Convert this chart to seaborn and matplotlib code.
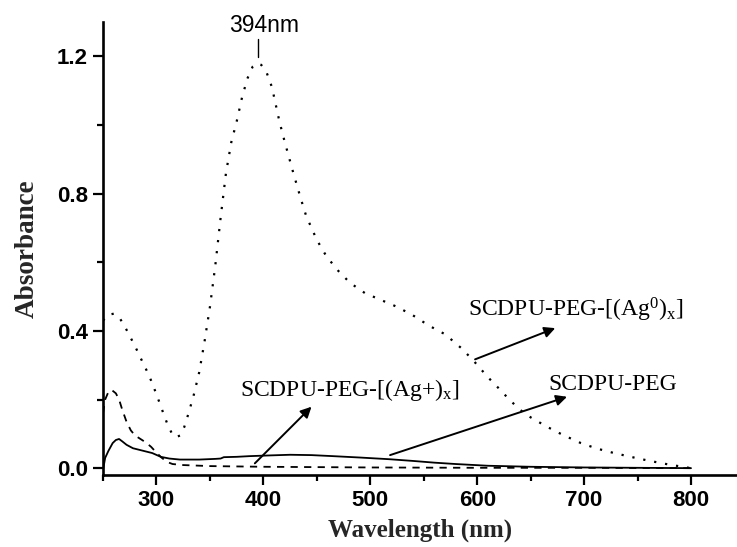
import matplotlib
matplotlib.use("Agg")
import matplotlib.pyplot as plt
import seaborn as sns
import pandas as pd

# ---- data ----
ag0_nm = [250, 255, 260, 265, 270, 275, 280, 285, 290, 295, 300, 305, 310, 315, 318,
          322, 326, 330, 335, 340, 345, 350, 355, 360, 365, 370, 375, 380, 385, 390,
          394, 398, 403, 408, 415, 420, 428, 435, 440, 450, 459, 470, 481, 495, 510,
          525, 540, 555, 570, 585, 596, 610, 620, 630, 640, 650, 665, 680, 697, 712,
          728, 745, 760, 775, 790, 800]
ag0_abs = [0.43, 0.447, 0.45, 0.44, 0.415, 0.385, 0.355, 0.322, 0.29, 0.255, 0.215, 0.172,
           0.13, 0.097, 0.09, 0.095, 0.12, 0.16, 0.215, 0.28, 0.37, 0.47, 0.59, 0.73, 0.86,
           0.95, 1.01, 1.08, 1.135, 1.17, 1.18, 1.175, 1.153, 1.11, 1.01, 0.95, 0.86, 0.785,
           0.735, 0.665, 0.617, 0.575, 0.54, 0.51, 0.49, 0.47, 0.445, 0.415, 0.39, 0.35,
           0.315, 0.265, 0.233, 0.2, 0.17, 0.148, 0.121, 0.097, 0.073, 0.057, 0.044, 0.032,
           0.022, 0.013, 0.005, 0.0]

agp_nm = [250, 252, 255, 258, 262, 265, 268, 272, 276, 280, 285, 290, 295, 300, 305, 310,
          315, 325, 350, 400, 500, 600, 700, 800]
agp_abs = [0.16, 0.2, 0.222, 0.228, 0.218, 0.2, 0.17, 0.135, 0.11, 0.095, 0.085, 0.075,
           0.062, 0.045, 0.03, 0.018, 0.012, 0.009, 0.006, 0.004, 0.002, 0.001, 0.001, 0.0]

peg_nm = [250, 252, 255, 259, 262, 265, 268, 272, 278, 287, 296, 304, 312, 322, 340, 355,
          360, 363, 375, 387, 405, 425, 445, 465, 490, 518, 540, 560, 580, 610, 650, 700,
          750, 800]
peg_abs = [-0.005, 0.03, 0.05, 0.073, 0.082, 0.085, 0.078, 0.068, 0.058, 0.051, 0.044, 0.033,
           0.028, 0.025, 0.025, 0.027, 0.028, 0.032, 0.033, 0.035, 0.037, 0.039, 0.038,
           0.035, 0.031, 0.026, 0.021, 0.016, 0.012, 0.007, 0.004, 0.002, 0.001, 0.0]

x_ticks = [300, 400, 500, 600, 700, 800]
y_ticks = [0.0, 0.4, 0.8, 1.2]
peak_label = "394nm"
peak_nm = 394.5

sns.set_style("ticks")
plt.rcParams["mathtext.fontset"] = "custom"
plt.rcParams["mathtext.rm"] = "Liberation Serif"
plt.rcParams["mathtext.it"] = "Liberation Serif:italic"

fig = plt.figure(figsize=(7.37, 5.47), dpi=100)
ax = fig.add_axes([0.1398, 0.1316, 0.8602, 0.8282])

sns.lineplot(x=ag0_nm, y=ag0_abs, ax=ax, color="black", lw=1.6,
             linestyle=(0, (1, 4)), estimator=None, sort=False)
sns.lineplot(x=agp_nm, y=agp_abs, ax=ax, color="black", lw=1.3,
             linestyle=(0, (4, 3.5)), estimator=None, sort=False)
sns.lineplot(x=peg_nm, y=peg_abs, ax=ax, color="black", lw=1.3,
             linestyle="-", estimator=None, sort=False)

ax.set_xlim(250, 843)
ax.set_ylim(-0.02, 1.30)
ax.set_xticks(x_ticks)
ax.set_xticks([250, 350, 450, 550, 650, 750], minor=True)
ax.set_yticks(y_ticks)
ax.set_yticks([0.2, 0.6, 1.0], minor=True)
ax.set_yticklabels([f"{v:.1f}" for v in y_ticks])
ax.set_xticklabels([str(v) for v in x_ticks])

sns.despine(ax=ax)
for s in ["left", "bottom"]:
    ax.spines[s].set_linewidth(1.9)
    ax.spines[s].set_color("black")
ax.tick_params(which="major", length=7, width=1.6, direction="out", colors="black",
               labelsize=16, pad=4)
ax.tick_params(which="minor", length=4, width=1.6, direction="out", colors="black")
for lab in ax.get_xticklabels() + ax.get_yticklabels():
    lab.set_fontfamily("Liberation Sans")
    lab.set_fontweight("bold")

ax.set_xlabel("Wavelength (nm)", fontfamily="Liberation Serif", fontweight="bold",
              fontsize=18, labelpad=5)
ax.set_ylabel("Absorbance", fontfamily="Liberation Serif", fontweight="bold",
              fontsize=19.5, labelpad=12)

# peak marker
ax.plot([peak_nm, peak_nm], [1.197, 1.25], color="black", lw=1.0)
ax.text(401, 1.29, peak_label, ha="center", va="center", fontsize=16.5,
        fontfamily="Liberation Sans", color="black")

serif = dict(fontfamily="Liberation Serif", fontsize=17, color="black")
arrow = dict(arrowstyle="-|>", color="black", lw=1.4, mutation_scale=16,
             shrinkA=0, shrinkB=0)

ax.text(591.5, 0.462, r"SCDPU-PEG-[(Ag$^{0}$)$_{\mathrm{x}}$]", ha="left", va="center", **serif)
ax.annotate("", xy=(673, 0.408), xytext=(598, 0.317), arrowprops=arrow)

ax.text(666.5, 0.243, "SCDPU-PEG", ha="left", va="center", **serif)
ax.annotate("", xy=(684, 0.208), xytext=(518.5, 0.038), arrowprops=arrow)

ax.text(377.8, 0.228, r"SCDPU-PEG-[(Ag+)$_{\mathrm{x}}$]", ha="left", va="center", **serif)
ax.annotate("", xy=(445, 0.179), xytext=(392, 0.014), arrowprops=arrow)

fig.savefig("out.png", dpi=100)
